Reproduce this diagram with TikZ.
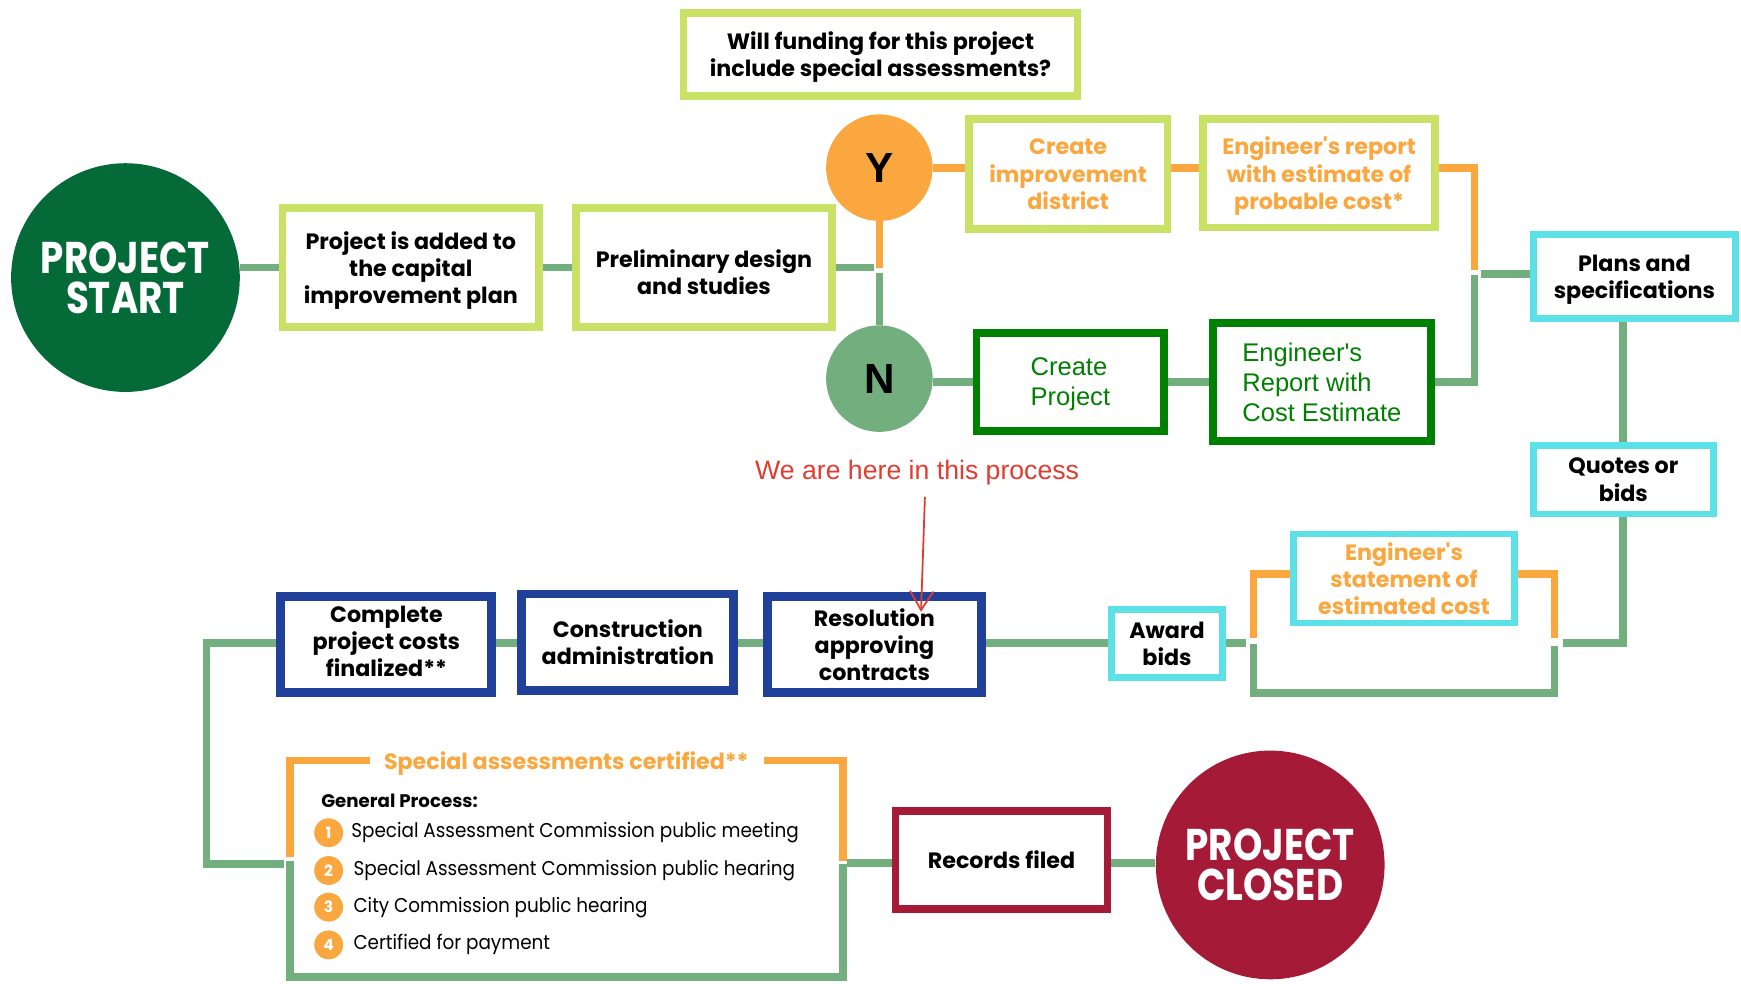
\documentclass[tikz,border=0pt]{standalone}
\usepackage{fontspec}
\setmainfont{Poppins}
\newfontfamily\arialfont{Liberation Sans}
\newfontfamily\listfont{Poppins}[FakeStretch=0.92]
\newfontfamily\terminalfont{Poppins}[FakeStretch=0.84]
\usetikzlibrary{arrows.meta}

\definecolor{limegreen}{HTML}{C9E265}
\definecolor{tangerine}{HTML}{F9A73E}
\definecolor{sage}{HTML}{72AE7E}
\definecolor{forest}{HTML}{046A38}
\definecolor{kelly}{HTML}{008000}
\definecolor{aqua}{HTML}{5CE1E6}
\definecolor{royal}{HTML}{21409A}
\definecolor{crimson}{HTML}{A51A37}
\definecolor{alert}{HTML}{E03C31}

\tikzstyle{stage} = [draw, rectangle, fill=white, align=center, inner sep=0pt,
    text depth=0pt, font=\bfseries\fontsize{10}{12.25}\selectfont]
\tikzstyle{limebox} = [stage, draw=limegreen, line width=3.5pt]
\tikzstyle{forestbox} = [stage, draw=kelly, line width=3.5pt, text=kelly,
    align=left, font=\arialfont\fontsize{11.5}{13.5}\selectfont]
\tikzstyle{aquabox} = [stage, draw=aqua, line width=3pt]
\tikzstyle{navybox} = [stage, draw=royal, line width=4pt]
\tikzstyle{crimsonbox} = [stage, draw=crimson, line width=3.5pt]
\tikzstyle{terminal} = [circle, minimum size=103pt, inner sep=0pt, text=white,
    align=center, font=\terminalfont\bfseries\fontsize{20}{18}\selectfont]
\tikzstyle{choice} = [circle, minimum size=48pt, inner sep=0pt,
    font=\arialfont\bfseries\fontsize{19}{20}\selectfont]
\tikzstyle{conn} = [draw=sage, line width=3.5pt]
\tikzstyle{oconn} = [draw=tangerine, line width=3.5pt]
\tikzstyle{num} = [circle, fill=tangerine, minimum size=13pt, inner sep=0pt,
    text=white, font=\bfseries\fontsize{7}{7}\selectfont]
\tikzstyle{item} = [anchor=west, inner sep=0pt, font=\listfont\fontsize{9}{11}\selectfont]

\begin{document}
\begin{tikzpicture}[x=0.5pt, y=-0.5pt]
  \useasboundingbox (0,0) rectangle (1568,886);

  % upper part
  \node (ask) [limebox, minimum width=177.5pt, minimum height=37.5pt] at (793,49) {Will funding for this project\\include special assessments?};
  \node (start) [terminal, fill=forest] at (113,250) {PROJECT\\START};
  \node (cip) [limebox, minimum width=115.5pt, minimum height=53.5pt] at (370,241) {Project is added to\\the capital\\improvement plan};
  \node (prelim) [limebox, text height=24pt, minimum width=115.5pt, minimum height=53.5pt] at (634,241) {Preliminary design\\and studies};
  \node (yes) [choice, fill=tangerine] at (792,151) {Y};
  \node (no) [choice, fill=sage] at (792,341) {N};
  \node (district) [limebox, text=tangerine, minimum width=89.5pt, minimum height=49.5pt] at (962,157) {Create\\improvement\\district};
  \node (estimate) [limebox, text=tangerine, minimum width=104.5pt, minimum height=49pt] at (1188,156) {Engineer\textquotesingle s report\\with estimate of\\probable cost*};
  \node (create) [forestbox, minimum width=84.5pt, minimum height=44pt] at (964,344) {Create\\Project};
  \node (report) [forestbox, minimum width=98pt, minimum height=53pt] at (1190.5,344) {Engineer\textquotesingle s\\Report with\\Cost Estimate};
  \node (plans) [aquabox, minimum width=91pt, minimum height=38pt] at (1472,249) {Plans and\\specifications};
  \node (quotes) [aquabox, minimum width=81pt, minimum height=31pt] at (1462,432) {Quotes or\\bids};

  \draw [conn] (start.east |- cip.west) -- (cip.west);
  \draw [conn] (cip.east) -- (prelim.west);
  \draw [conn] (prelim.east) -- (787,241);
  \draw [oconn] (yes.south) -- (792,241);
  \draw [conn] (792,246) -- (no.north);
  \draw [oconn] (yes.east) -- (district.west |- yes.east);
  \draw [oconn] (district.east |- yes.east) -- (estimate.west |- yes.east);
  \draw [oconn] (estimate.east |- yes.east) -| (1328,243);
  \draw [conn] (no.east |- create.west) -- (create.west);
  \draw [conn] (create.east) -- (report.west);
  \draw [conn] (report.east) -| (1328,248);
  \draw [conn] (plans.west |- 0,247) -- (1334,247);
  \draw [conn] (quotes.north |- plans.south) -- (quotes.north);

  % lower part
  \node (stmt) [aquabox, text=tangerine, minimum width=99.5pt, minimum height=40pt] at (1264.5,521) {Engineer\textquotesingle s\\statement of\\estimated cost};
  \node (award) [aquabox, minimum width=50pt, minimum height=30.5pt] at (1051,579.5) {Award\\bids};
  \node (resol) [navybox, minimum width=96.5pt, minimum height=43.5pt] at (787.5,580.5) {Resolution\\approving\\contracts};
  \node (constr) [navybox, minimum width=95.5pt, minimum height=43.5pt] at (565.5,578.5) {Construction\\administration};
  \node (final) [navybox, text depth=3pt, minimum width=95pt, minimum height=43.5pt] at (348,580.5) {Complete\\project costs\\finalized**};
  \node (records) [crimsonbox, minimum width=95.5pt, minimum height=44pt] at (902,774.5) {Records filed};
  \node (closed) [terminal, fill=crimson] at (1144,779) {PROJECT\\CLOSED};

  \draw [conn] (quotes.south) |- (1408,579);
  \draw [oconn] (1129,575) |- ([yshift=2pt]stmt.west);
  \draw [oconn] ([yshift=2pt]stmt.east) -| (1400,575);
  \draw [conn] (1129,580) |- (1400,624) -- (1400,582);
  \draw [conn] (award.east |- 0,579) -- (1122,579);
  \draw [conn] (resol.east |- 0,579) -- (award.west |- 0,579);
  \draw [conn] (constr.east |- 0,579) -- (resol.west |- 0,579);
  \draw [conn] (final.east |- 0,579) -- (constr.west |- 0,579);
  \draw [conn] (final.west |- 0,579) -| (186,778) -- (256,778);

  % special assessments
  \draw [oconn] (333,685) -| (261,772);
  \draw [oconn] (688,685) -| (759,775);
  \draw [conn] (261,775) |- (759,880) -- (759,778);
  \node (sac) [text=tangerine, font=\bfseries\fontsize{10}{11}\selectfont] at (510,688) {Special assessments certified**};
  \node (gp) [anchor=west, inner sep=0pt, font=\bfseries\fontsize{8.2}{9}\selectfont] at (289,721) {General Process:};
  \node (n1) [num] at (296,750) {1};
  \node (n2) [num] at (296,784) {2};
  \node (n3) [num] at (296,817) {3};
  \node (n4) [num] at (296,851) {4};
  \node (i1) [item] at (316,750) {Special Assessment Commission public meeting};
  \node (i2) [item] at (318,784) {Special Assessment Commission public hearing};
  \node (i3) [item] at (318,817) {City Commission public hearing};
  \node (i4) [item] at (318,851) {Certified for payment};

  \draw [conn] (763,777) -- (records.west |- 0,777);
  \draw [conn] (records.east |- 0,777) -- (closed.west |- 0,777);

  % marker
  \node (here) [text=alert, inner sep=0pt, font=\arialfont\fontsize{12}{14}\selectfont] at (826,426) {We are here in this process};
  \draw [alert, line width=0.8pt, -{Straight Barb[length=8.5pt,width=10.5pt]}] ([xshift=3.5pt, yshift=-5pt]here.south) -- ([xshift=21pt, yshift=-9pt]resol.north);
\end{tikzpicture}
\end{document}
